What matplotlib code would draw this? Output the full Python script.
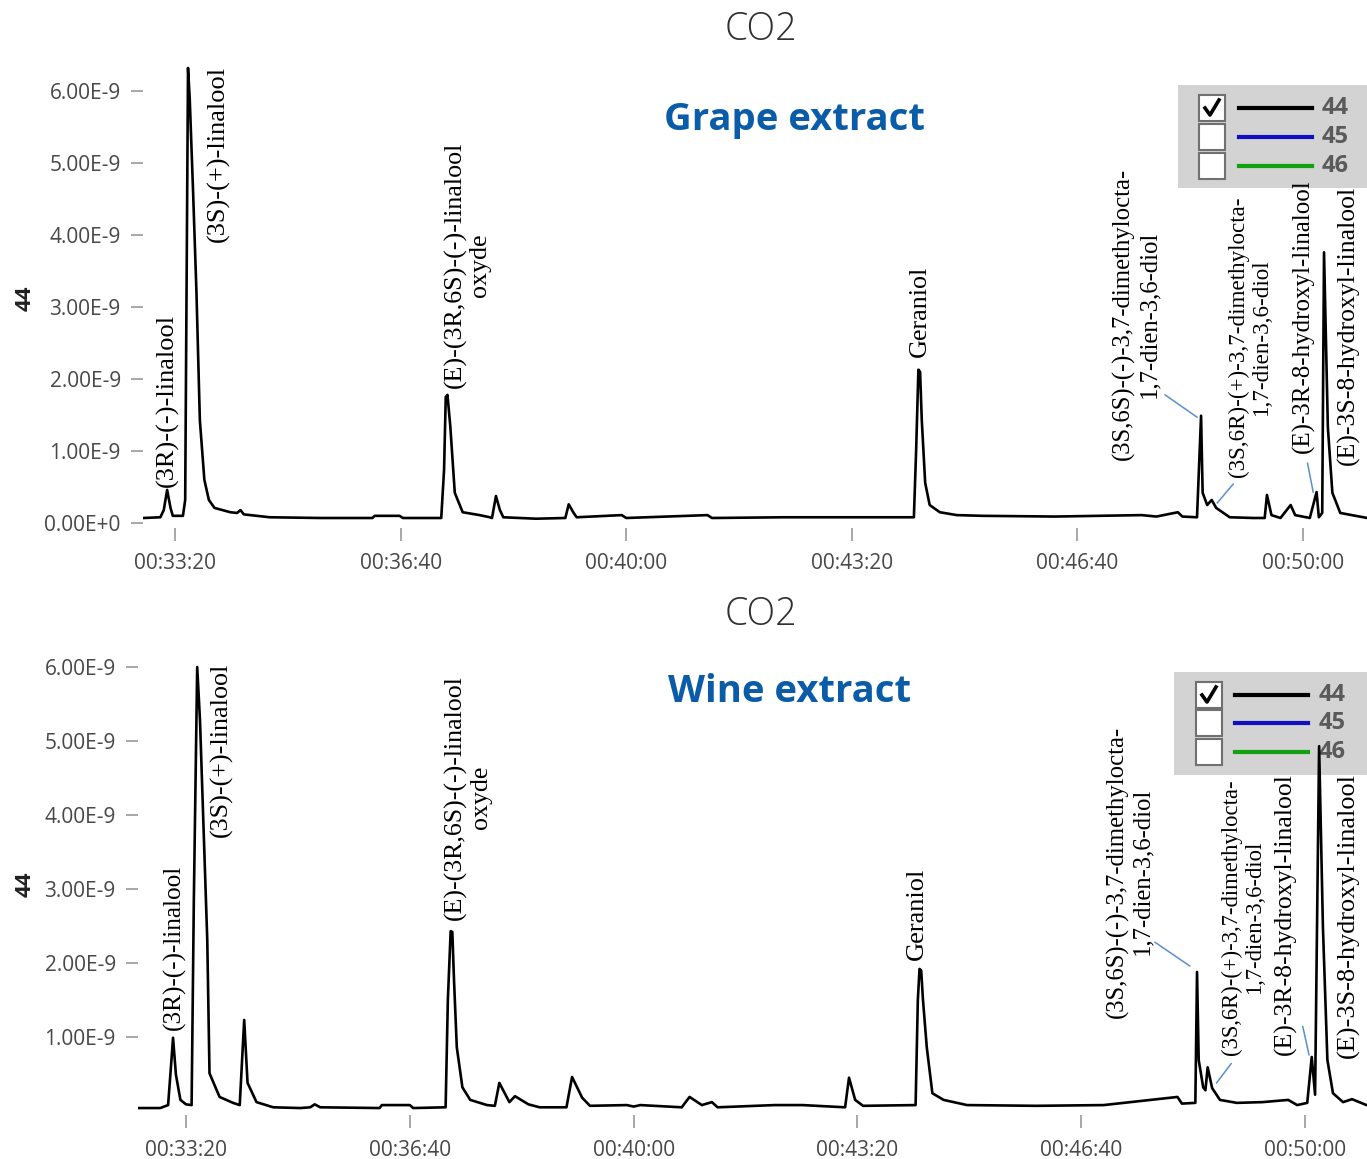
import numpy as np
import matplotlib
matplotlib.use("Agg")
import matplotlib.pyplot as plt
from matplotlib.patches import Rectangle
from matplotlib.lines import Line2D
from matplotlib.ticker import FuncFormatter

W, H = 1367, 1159

# ---- data: retention time (s), m/z 44 intensity (x 1e-9) ----
grape_t = np.array([1972, 1987, 1990, 1993, 1996, 1998, 2007, 2009, 2011.5, 2013, 2016, 2019,
                    2022, 2026, 2030, 2035, 2049, 2055, 2058, 2061, 2084, 2129, 2175, 2177,
                    2199, 2202, 2236, 2238.5, 2240, 2241.5, 2244, 2248, 2255, 2270, 2279, 2281,
                    2284.5, 2288, 2291, 2320, 2346, 2349, 2353, 2356, 2396, 2400, 2472, 2476,
                    2540, 2598, 2655, 2657, 2659, 2660.5, 2662, 2665, 2669, 2678, 2693, 2716,
                    2780, 2857, 2870, 2889, 2893, 2906, 2909.6, 2911, 2915, 2919, 2923, 2935,
                    2956, 2966, 2968, 2972, 2980, 2989, 2993, 3006, 3012, 3014, 3017, 3018.6,
                    3022, 3026, 3033, 3057])
grape_v = np.array([0.07, 0.08, 0.18, 0.46, 0.21, 0.10, 0.10, 0.32, 6.32, 5.9, 4.6, 3.2,
                    1.43, 0.60, 0.32, 0.21, 0.15, 0.14, 0.18, 0.12, 0.08, 0.07, 0.07, 0.10,
                    0.10, 0.07, 0.07, 0.74, 1.75, 1.78, 1.35, 0.42, 0.15, 0.11, 0.08, 0.07,
                    0.375, 0.18, 0.08, 0.06, 0.07, 0.26, 0.15, 0.08, 0.11, 0.07, 0.11, 0.07,
                    0.08, 0.08, 0.08, 1.01, 2.13, 2.1, 1.43, 0.56, 0.25, 0.15, 0.11, 0.10,
                    0.09, 0.11, 0.09, 0.15, 0.09, 0.08, 1.49, 0.42, 0.25, 0.32, 0.21, 0.08,
                    0.07, 0.07, 0.39, 0.11, 0.07, 0.25, 0.11, 0.07, 0.43, 0.08, 0.14, 3.76,
                    1.33, 0.42, 0.14, 0.07])

wine_t = np.array([1957, 1977, 1984, 1987, 1988.4, 1991, 1995, 2000, 2005, 2007, 2010, 2012.5,
                   2019, 2021, 2030, 2042, 2048, 2052, 2055, 2063, 2078, 2102, 2111, 2115,
                   2120, 2173, 2175, 2200, 2203, 2232, 2234, 2236.5, 2238, 2239.5, 2242, 2247,
                   2254, 2269, 2276, 2280, 2289, 2294, 2306, 2316, 2340, 2345, 2354, 2361,
                   2394, 2400, 2406, 2443, 2450, 2461, 2470, 2475, 2526, 2551, 2589, 2592.5,
                   2598, 2605, 2652, 2654, 2655.5, 2657, 2658.6, 2662, 2667, 2677, 2698, 2760,
                   2820, 2886, 2890, 2902, 2903.5, 2905, 2909, 2911, 2913, 2917, 2924, 2939,
                   2962, 2985, 2993, 3002, 3006, 3009, 3012.6, 3016, 3020, 3025, 3034, 3042,
                   3055])
wine_v = np.array([0.04, 0.04, 0.08, 0.69, 0.99, 0.49, 0.15, 0.09, 0.08, 2.85, 6.0, 5.28,
                   2.31, 0.51, 0.19, 0.11, 0.08, 1.23, 0.38, 0.12, 0.05, 0.04, 0.05, 0.09,
                   0.05, 0.04, 0.08, 0.08, 0.04, 0.05, 1.5, 2.43, 2.42, 1.77, 0.86, 0.32,
                   0.15, 0.08, 0.07, 0.38, 0.12, 0.20, 0.09, 0.05, 0.05, 0.46, 0.18, 0.07,
                   0.08, 0.06, 0.08, 0.05, 0.19, 0.08, 0.12, 0.05, 0.08, 0.08, 0.05, 0.45,
                   0.15, 0.07, 0.08, 1.5, 1.92, 1.9, 1.5, 0.86, 0.24, 0.15, 0.08, 0.07,
                   0.08, 0.19, 0.10, 0.11, 1.88, 0.69, 0.32, 0.28, 0.59, 0.31, 0.15, 0.11,
                   0.12, 0.15, 0.08, 0.11, 0.73, 0.22, 4.93, 2.49, 0.69, 0.24, 0.12, 0.16,
                   0.08])

compounds = ["(3R)-(-)-linalool",
             "(3S)-(+)-linalool",
             "(E)-(3R,6S)-(-)-linalool\noxyde",
             "Geraniol",
             "(3S,6S)-(-)-3,7-dimethylocta-\n1,7-dien-3,6-diol",
             "(3S,6R)-(+)-3,7-dimethylocta-\n1,7-dien-3,6-diol",
             "(E)-3R-8-hydroxyl-linalool",
             "(E)-3S-8-hydroxyl-linalool"]
grape_lab_t = [1993, 2038, 2259, 2660, 2852, 2953, 3000, 3040]
grape_lab_v = [0.50, 3.90, 1.875, 2.30, 0.875, 0.64, 0.97, 0.80]
grape_lab_size = [19, 19, 18.7, 18.8, 17.8, 16.6, 18, 18.5]
wine_lab_t = [1990, 2032, 2252, 2653, 2843, 2944.6, 2982, 3039]
wine_lab_v = [1.09, 3.70, 2.58, 2.04, 1.26, 0.76, 0.76, 0.72]
wine_lab_size = [18.2, 18.8, 18.6, 19, 17.8, 16.3, 18.5, 18.9]

# leader lines: (t0, v0, t1, v1)
grape_leaders = [(2877.7, 1.78, 2906, 1.47), (2938, 0.54, 2924, 0.28), (3004, 0.83, 3009, 0.43)]
wine_leaders = [(2866, 2.28, 2897, 1.96), (2934, 0.64, 2921, 0.38), (2998, 1.14, 3003.6, 0.76)]

xticks = [2000, 2200, 2400, 2600, 2800, 3000]
grape_yticks = [0, 1, 2, 3, 4, 5, 6]
wine_yticks = [1, 2, 3, 4, 5, 6]
legend_labels = ["44", "45", "46"]
legend_colors = ["#000000", "#1010c0", "#10a010"]
legend_checked = [True, False, False]

SANS = ["Open Sans", "DejaVu Sans"]
SERIF = ["Liberation Serif", "DejaVu Serif"]
plt.rcParams['font.family'] = SANS

fig = plt.figure(figsize=(W / 100, H / 100), dpi=100)


def fx(px):
    return px / W


def fy(py):
    return 1 - py / H


def hms(s, _):
    s = int(round(s))
    return f"{s // 3600:02d}:{s % 3600 // 60:02d}:{s % 60:02d}"


def draw_legend(ax, x0, y0, x1, y1, box_x, line_x0, line_x1, lab_x, rows_y):
    tr = fig.transFigure
    ax.add_patch(Rectangle((fx(x0), fy(y1)), fx(x1) - fx(x0), fy(y0) - fy(y1),
                           transform=tr, facecolor="#d3d3d3", edgecolor="none", zorder=1.5))
    for lab, col, chk, cy in zip(legend_labels, legend_colors, legend_checked, rows_y):
        s = 26
        ax.add_patch(Rectangle((fx(box_x), fy(cy + s / 2)), s / W, s / H, transform=tr,
                               facecolor="white", edgecolor="#707070", lw=1.5, zorder=1.6))
        if chk:
            ax.add_line(Line2D([fx(box_x + 6), fx(box_x + 11), fx(box_x + 20)],
                               [fy(cy), fy(cy + 7), fy(cy - 8)], transform=tr,
                               color="black", lw=2.6, zorder=1.7))
        ax.add_line(Line2D([fx(line_x0), fx(line_x1)], [fy(cy), fy(cy)], transform=tr,
                           color=col, lw=3, zorder=1.7))
        ax.text(fx(lab_x), fy(cy), lab, transform=tr, ha="left", va="center",
                fontsize=17, fontweight="bold", color="#5a5a5a", zorder=1.7)


def panel(rect, t, v, xlim, ylim, yticks, title_y, name, name_xy, label_y,
          lab_t, lab_v, lab_size, leaders, legend_args):
    ax = fig.add_axes(rect)
    ax.plot(t, v, color="black", lw=1.9, zorder=3, solid_joinstyle="round")
    ax.set_xlim(*xlim)
    ax.set_ylim(*ylim)
    for sp in ax.spines.values():
        sp.set_visible(False)
    ax.set_xticks(xticks)
    ax.xaxis.set_major_formatter(FuncFormatter(hms))
    ax.set_yticks(yticks)
    ax.set_yticklabels(["0.00E+0" if y == 0 else f"{y:.2f}E-9" for y in yticks])
    ax.tick_params(axis="both", length=9, width=1.3, color="#a0a0a0",
                   labelcolor="#484848", labelsize=15)
    ax.tick_params(axis="x", pad=9)
    ax.tick_params(axis="y", pad=7)
    ax.set_facecolor("none")

    fig.text(0.557, fy(title_y), "CO2", ha="center", va="center", fontsize=27,
             fontweight="light", color="#303030")
    fig.text(fx(name_xy[0]), fy(name_xy[1]), name, ha="center", va="center",
             fontsize=27.5, fontweight="bold", color="#0a5ca8")
    fig.text(fx(25), fy(label_y), "44", rotation=90, ha="center", va="center",
             fontsize=16, fontweight="bold", color="#202020")

    for txt, lt, lv, fs in zip(compounds, lab_t, lab_v, lab_size):
        ax.text(lt, lv, txt, rotation=90, ha="center", va="bottom", multialignment="center",
                family=SERIF, fontsize=fs, color="black", linespacing=1.15, zorder=4)
    for t0, v0, t1, v1 in leaders:
        ax.plot([t0, t1], [v0, v1], color="#5b8fc9", lw=1.1, zorder=4)

    draw_legend(ax, *legend_args)
    return ax


panel([fx(143), fy(528), 1 - fx(143), fy(55) - fy(528)], grape_t, grape_v,
      (1971.6, 3056.7), (-0.069, 6.5), grape_yticks, 30, "Grape extract", (795, 120), 298,
      grape_lab_t, grape_lab_v, grape_lab_size, grape_leaders,
      (1178, 85, 1367, 188, 1199, 1239, 1312, 1322, [108, 137, 166]))

panel([fx(138), fy(1115), 1 - fx(138), fy(650) - fy(1115)], wine_t, wine_v,
      (1957.1, 3055.4), (-0.054, 6.23), wine_yticks, 615, "Wine extract", (790, 692), 884,
      wine_lab_t, wine_lab_v, wine_lab_size, wine_leaders,
      (1174, 672, 1367, 775, 1196, 1235, 1308, 1319, [695, 723, 752]))

fig.savefig("out.png", dpi=100)
